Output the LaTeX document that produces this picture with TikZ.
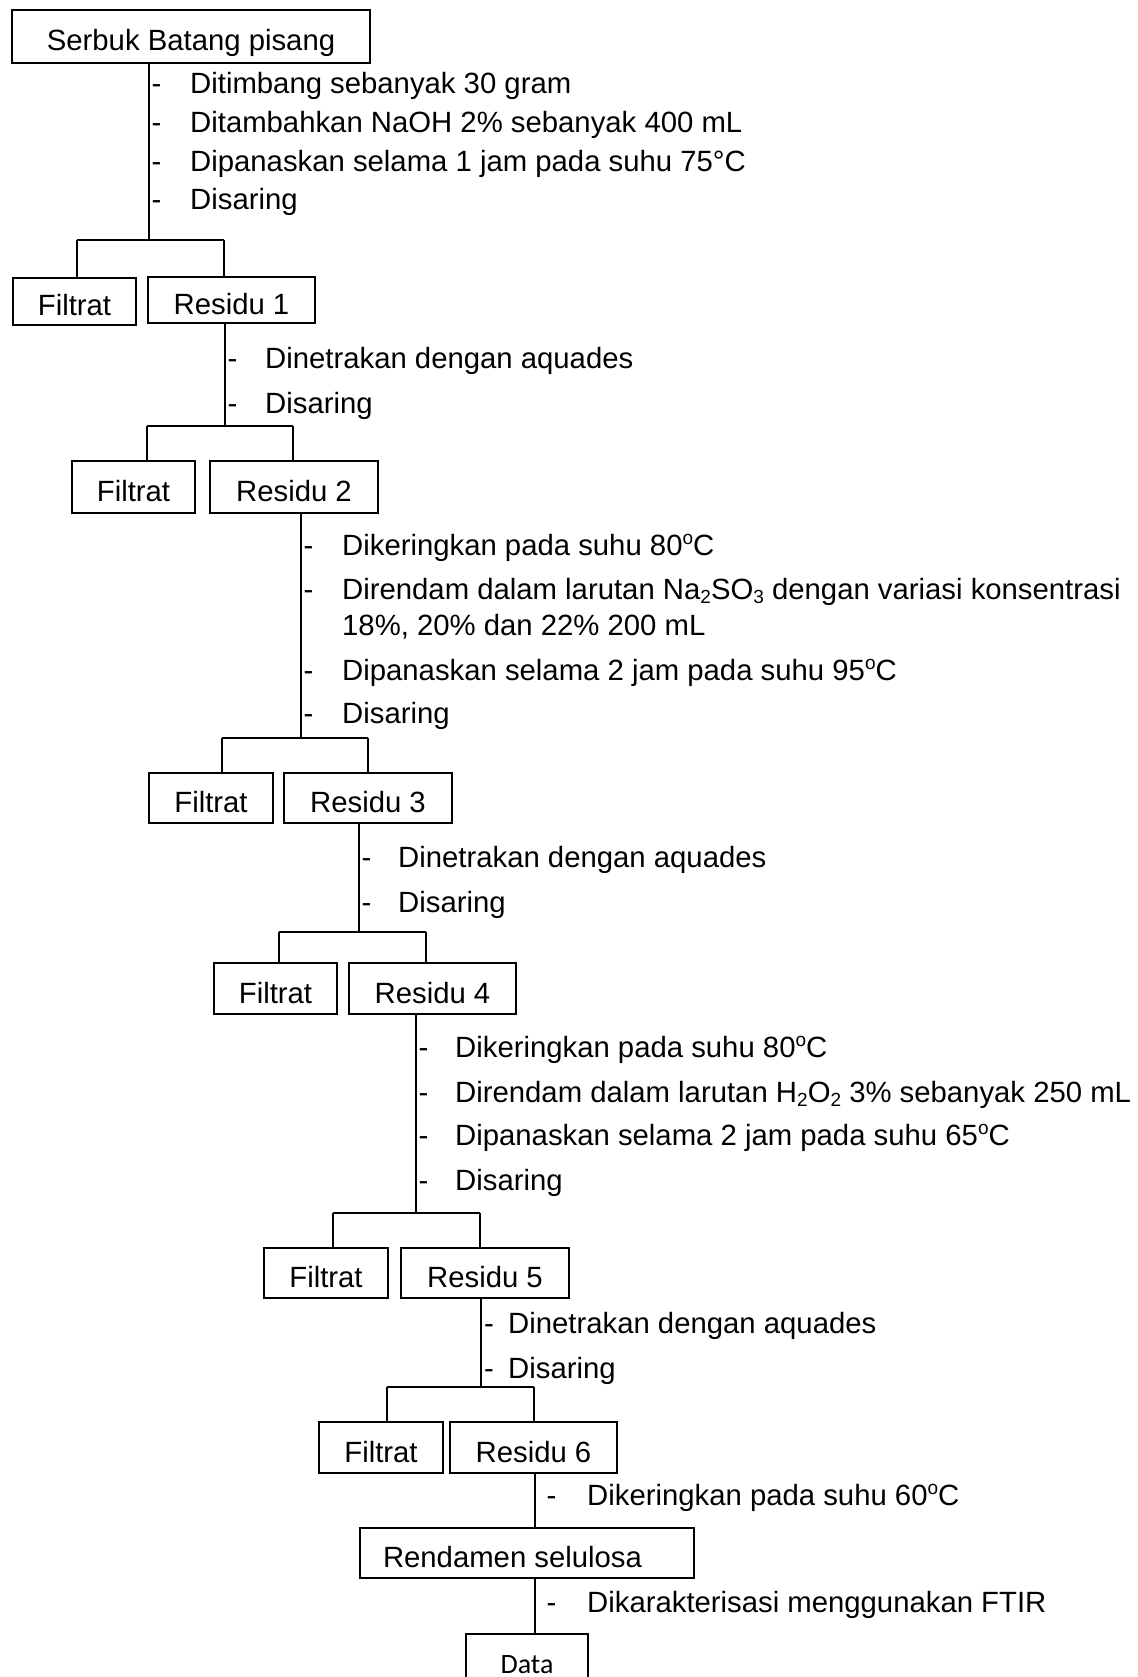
\documentclass[tikz,border=0pt]{standalone}
\usepackage{fontspec}
\setmainfont{Liberation Sans}
\newfontfamily\carlito{Carlito}
\newcommand\supo{\raisebox{11pt}{\fontsize{19}{19}\selectfont o}}
\newcommand\lowidx[1]{\raisebox{-4pt}{\fontsize{19}{19}\selectfont #1}}
\newcommand\listline[5]{%
  \node[item] (d#1) at (#2,#4) {-};
  \node[item] (t#1) at (#3,#4) {#5};}
\begin{document}
\begin{tikzpicture}[x=1pt,y=-1pt,
  every node/.style={font=\fontsize{29.3}{35}\selectfont},
  box/.style={draw, line width=2.5pt, inner sep=0pt, text height=29pt, text depth=0pt},
  conn/.style={line width=1.3pt},
  item/.style={anchor=base west, inner sep=0pt},
]
\useasboundingbox (0,0) rectangle (1137,1677);
\clip (0,0) rectangle (1137,1677);

% boxes
\node[box, minimum width=358, minimum height=53] (serbuk) at (191,36.5) {Serbuk Batang pisang};
\node[box, minimum width=123, minimum height=47] (f1) at (74.5,301.5) {Filtrat};
\node[box, minimum width=167, minimum height=46] (r1) at (231.5,300) {Residu 1};
\node[box, minimum width=123, minimum height=52] (f2) at (133.5,487) {Filtrat};
\node[box, minimum width=168, minimum height=52] (r2) at (294,487) {Residu 2};
\node[box, minimum width=124, minimum height=50] (f3) at (211,798) {Filtrat};
\node[box, minimum width=168, minimum height=50] (r3) at (368,798) {Residu 3};
\node[box, minimum width=123, minimum height=51] (f4) at (275.5,988.5) {Filtrat};
\node[box, minimum width=167, minimum height=51] (r4) at (432.5,988.5) {Residu 4};
\node[box, minimum width=124, minimum height=50] (f5) at (326,1273) {Filtrat};
\node[box, minimum width=168, minimum height=50] (r5) at (485,1273) {Residu 5};
\node[box, minimum width=124, minimum height=51] (f6) at (381,1447.5) {Filtrat};
\node[box, minimum width=167, minimum height=51] (r6) at (533.5,1447.5) {Residu 6};
\node[box, minimum width=334, minimum height=50] (rend) at (527,1553) {\makebox[288pt][l]{Rendamen selulosa}};
\node[box, minimum width=122, minimum height=66, text height=12pt, font=\carlito\fontsize{28}{32}\selectfont] (data) at (527,1667) {Data};

% branch coordinates
\coordinate (b1M) at (149,240);  \coordinate (b1L) at (77,240);  \coordinate (b1R) at (224,240);
\coordinate (b2M) at (225,426);  \coordinate (b2L) at (147,426); \coordinate (b2R) at (293,426);
\coordinate (b3M) at (301,738);  \coordinate (b3L) at (222,738); \coordinate (b3R) at (368,738);
\coordinate (b4M) at (359,932);  \coordinate (b4L) at (279,932); \coordinate (b4R) at (426,932);
\coordinate (b5M) at (416,1213); \coordinate (b5L) at (333,1213); \coordinate (b5R) at (480,1213);
\coordinate (b6M) at (481,1387); \coordinate (b6L) at (387,1387); \coordinate (b6R) at (534,1387);
\coordinate (b7) at (535,1500);

% connectors
\foreach \p/\b/\f/\r in {serbuk/1/f1/r1, r1/2/f2/r2, r2/3/f3/r3, r3/4/f4/r4, r4/5/f5/r5, r5/6/f6/r6}{
  \draw[conn] (\p.south -| b\b M) -- (b\b M);
  \draw[conn] (b\b L) -- (b\b R);
  \draw[conn] (b\b L) -- (\f.north -| b\b L);
  \draw[conn] (b\b R) -- (\r.north -| b\b R);
}
\draw[conn] (r6.south -| b7) -- (rend.north -| b7);
\draw[conn] (rend.south -| b7) -- (data.north -| b7);

% block 1
\listline{1a}{151.5}{190}{94}{Ditimbang sebanyak 30 gram}
\listline{1b}{151.5}{190}{133}{Ditambahkan NaOH 2\% sebanyak 400 mL}
\listline{1c}{151.5}{190}{172}{Dipanaskan selama 1 jam pada suhu 75°C}
\listline{1d}{151.5}{190}{210}{Disaring}
% block 2
\listline{2a}{227.5}{265}{368}{Dinetrakan dengan aquades}
\listline{2b}{227.5}{265}{413}{Disaring}
% block 3
\listline{3a}{303.5}{342}{555}{Dikeringkan pada suhu 80\supo C}
\listline{3b}{303.5}{342}{599}{Direndam dalam larutan Na\lowidx{2}SO\lowidx{3} dengan variasi konsentrasi}
\node[item] (t3b2) at (342,635) {18\%, 20\% dan 22\% 200 mL};
\listline{3c}{303.5}{342}{680}{Dipanaskan selama 2 jam pada suhu 95\supo C}
\listline{3d}{303.5}{342}{723}{Disaring}
% block 4
\listline{4a}{361.5}{398}{867}{Dinetrakan dengan aquades}
\listline{4b}{361.5}{398}{912}{Disaring}
% block 5
\listline{5a}{418.5}{455}{1057}{Dikeringkan pada suhu 80\supo C}
\listline{5b}{418.5}{455}{1102}{Direndam dalam larutan H\lowidx{2}O\lowidx{2} 3\% sebanyak 250 mL}
\listline{5c}{418.5}{455}{1145}{Dipanaskan selama 2 jam pada suhu 65\supo C}
\listline{5d}{418.5}{455}{1190}{Disaring}
% block 6
\listline{6a}{484}{508}{1333}{Dinetrakan dengan aquades}
\listline{6b}{484}{508}{1378}{Disaring}
% block 7, 8
\listline{7a}{546.5}{587}{1505}{Dikeringkan pada suhu 60\supo C}
\listline{8a}{546.5}{587}{1612}{Dikarakterisasi menggunakan FTIR}
\end{tikzpicture}
\end{document}
